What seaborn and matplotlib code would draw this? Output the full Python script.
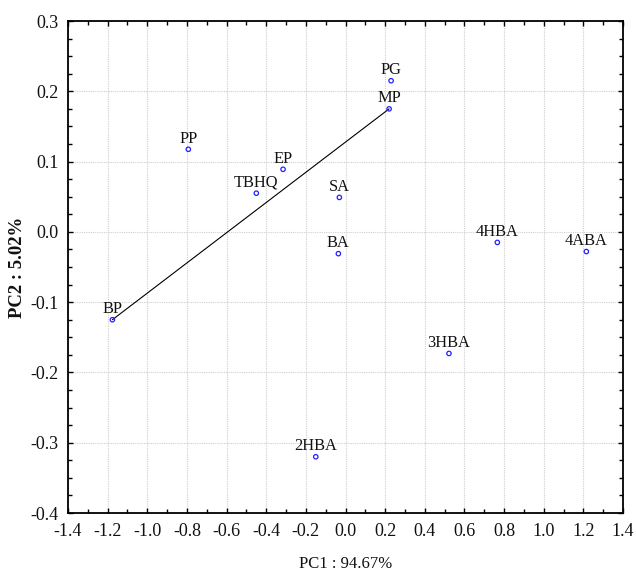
import matplotlib
matplotlib.use("Agg")
import matplotlib.pyplot as plt
from matplotlib.ticker import MultipleLocator, FormatStrFormatter
import seaborn as sns
import pandas as pd

# PCA scores of the compounds
compounds = ["PP", "EP", "TBHQ", "PG", "MP", "SA", "BA", "4HBA", "4ABA", "BP", "2HBA", "3HBA"]
pc1 = [-0.793, -0.315, -0.450, 0.230, 0.220, -0.031, -0.036, 0.766, 1.215, -1.176, -0.150, 0.522]
pc2 = [0.1175, 0.089, 0.055, 0.215, 0.175, 0.049, -0.031, -0.015, -0.028, -0.125, -0.320, -0.173]

# compounds joined by the straight line
line_ends = ["BP", "MP"]

x_label = "PC1 : 94.67%"
y_label = "PC2 : 5.02%"

df = pd.DataFrame({"compound": compounds, "PC1": pc1, "PC2": pc2})

sns.set_theme(style="white")
plt.rcParams["font.family"] = ["Liberation Serif", "DejaVu Serif"]
plt.rcParams["axes.unicode_minus"] = False

fig = plt.figure(figsize=(6.36, 5.74), dpi=100)
ax = fig.add_axes([68 / 636, 1 - 513 / 574, (623 - 68) / 636, (513 - 21) / 574])

seg = df.set_index("compound").loc[line_ends].reset_index()
sns.lineplot(data=seg, x="PC1", y="PC2", sort=False, estimator=None,
             color="black", linewidth=0.8, ax=ax, zorder=2)

sns.scatterplot(data=df, x="PC1", y="PC2", marker="o", s=10,
                facecolors="none", edgecolor="#2020ff", linewidth=0.9,
                ax=ax, zorder=3)

for name, x, y in zip(compounds, pc1, pc2):
    ax.annotate(name, (x, y), xytext=(0, 4.8), textcoords="offset points",
                ha="center", va="baseline", fontsize=11.8, color="#111111")

ax.set_xlim(-1.4, 1.4)
ax.set_ylim(-0.4, 0.3)
ax.xaxis.set_major_locator(MultipleLocator(0.2))
ax.xaxis.set_minor_locator(MultipleLocator(0.1))
ax.yaxis.set_major_locator(MultipleLocator(0.1))
ax.yaxis.set_minor_locator(MultipleLocator(0.025))
ax.xaxis.set_major_formatter(FormatStrFormatter("%.1f"))
ax.yaxis.set_major_formatter(FormatStrFormatter("%.1f"))

ax.tick_params(which="both", direction="in", top=True, right=True,
               bottom=True, left=True, color="black", width=1.0)
ax.tick_params(which="major", length=3.5, labelsize=13, pad=7, labelcolor="#111111")
ax.tick_params(which="minor", length=3.0)

ax.grid(True, which="major", color="#cfcfcf", linestyle=(0, (1, 1)), linewidth=0.8)
ax.set_axisbelow(True)
for sp in ax.spines.values():
    sp.set_color("black")
    sp.set_linewidth(1.3)

ax.set_xlabel(x_label, fontsize=12, labelpad=12, color="#111111")
ax.set_ylabel(y_label, fontsize=13.5, labelpad=3, fontweight="bold", color="#111111")

fig.savefig("out.png", dpi=100)
